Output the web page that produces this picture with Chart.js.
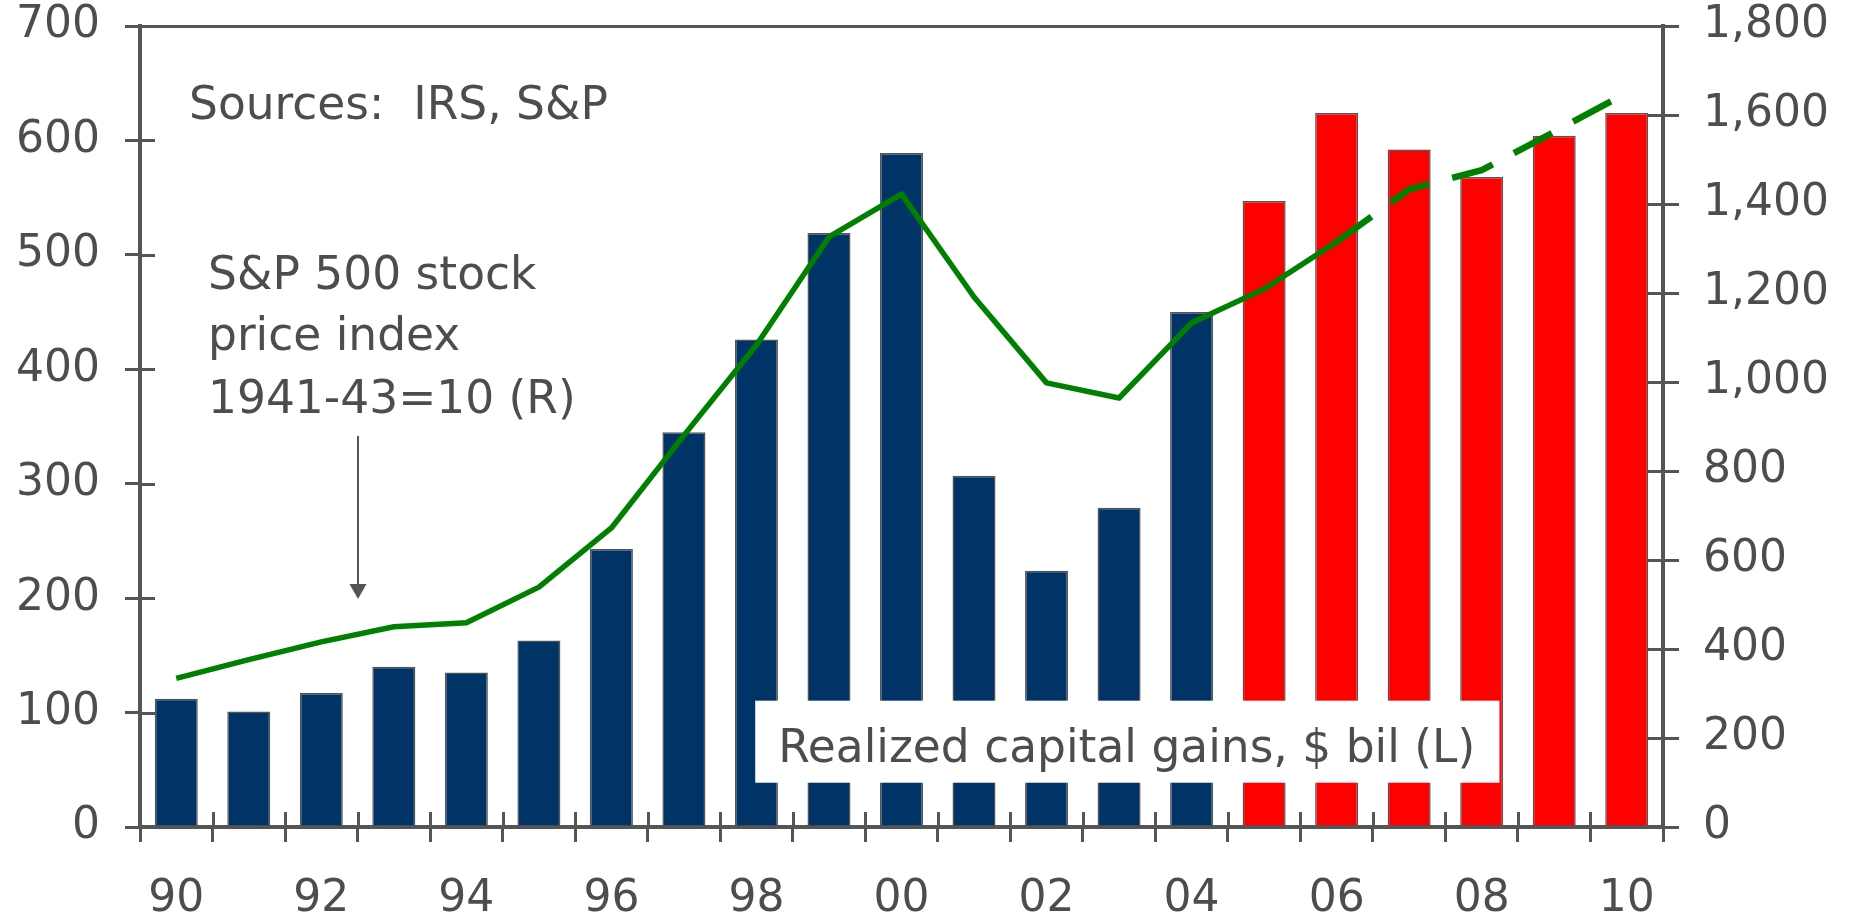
<!DOCTYPE html>
<html>
<head>
<meta charset="utf-8">
<script src="https://cdn.jsdelivr.net/npm/chart.js@4.4.1/dist/chart.umd.min.js"></script>
<style>
html,body{margin:0;padding:0;background:#ffffff;}
#wrap{width:1854px;height:916px;}
</style>
</head>
<body>
<div id="wrap"><canvas id="c" width="1854" height="916"></canvas></div>
<script>
// ---- data ----
const years = ['90','91','92','93','94','95','96','97','98','99','00','01','02','03','04','05','06','07','08','09','10'];
const capitalGains = [112, 101, 117, 140, 135, 163, 243, 345, 426, 519, 589, 307, 224, 279, 450, 547, 624, 592, 568, 604, 624]; // $ bil (L)
const sp500Index = [334, 376, 416, 450, 459, 539, 672, 880, 1083, 1326, 1422, 1191, 998, 964, 1133, 1209, 1315, 1433, 1476, 1562, 1650]; // (R)
const firstProjectedBar = 15;   // 2005 onward drawn red
const firstDashedPoint = 16;    // line dashed from 2006 onward
const leftTickStep = 100, leftMax = 700;
const rightTickStep = 200, rightMax = 1800;

const NAVY = '#003366', RED = '#ff0000', GREEN = '#008000', AXIS = '#555555', TEXT = '#4d4d4d';
const FONT = "'DejaVu Sans', Verdana, sans-serif";

Chart.defaults.font.family = FONT;
Chart.defaults.font.size = 44;
Chart.defaults.color = TEXT;

const decor = {
  id: 'decor',
  beforeDatasetsDraw(chart) {
    const {ctx, chartArea: ca} = chart;
    const x = chart.scales.x, yl = chart.scales.yL, yr = chart.scales.yR;
    ctx.save();
    ctx.strokeStyle = AXIS;
    ctx.lineWidth = 3;
    const seg = (x1, y1, x2, y2) => { ctx.beginPath(); ctx.moveTo(x1, y1); ctx.lineTo(x2, y2); ctx.stroke(); };
    for (let i = 0; i <= years.length; i++) {
      const px = Math.round(x.getPixelForValue(i - 0.5)) + 0.5;
      seg(px, ca.bottom, px, ca.bottom - 15);
    }
    yl.ticks.forEach(t => { const py = Math.round(yl.getPixelForValue(t.value)) + 0.5; seg(ca.left, py, ca.left + 15, py); });
    yr.ticks.forEach(t => { const py = Math.round(yr.getPixelForValue(t.value)) + 0.5; seg(ca.right, py, ca.right - 16, py); });
    seg(ca.left, ca.top + 0.5, ca.right, ca.top + 0.5);
    ctx.restore();
  },
  afterDatasetsDraw(chart) {
    const {ctx} = chart;
    const x = chart.scales.x, yl = chart.scales.yL;
    const X = v => x.getPixelForValue(v);
    const Y = v => yl.getPixelForValue(v);
    ctx.save();
    // label box
    const bx1 = X(7.983), bx2 = X(18.245), by1 = Y(110.4), by2 = Y(38.7);
    ctx.fillStyle = '#ffffff';
    ctx.fillRect(bx1, by1, bx2 - bx1, by2 - by1);
    ctx.fillStyle = TEXT;
    ctx.font = '45.5px ' + FONT;
    ctx.textAlign = 'left';
    ctx.textBaseline = 'alphabetic';
    ctx.fillText('Realized capital gains, $ bil (L)', X(8.3), Y(56.5));
    ctx.fillText('Sources:  IRS, S&P', X(0.176), Y(618.7));
    ctx.fillText('S&P 500 stock', X(0.438), Y(470.2));
    ctx.fillText('price index', X(0.438), Y(416.8));
    ctx.fillText('1941-43=10 (R)', X(0.438), Y(361.8));
    // arrow
    const ax = Math.round(X(2.5)), ay1 = Y(341.7), ay2 = Y(199.2);
    ctx.strokeStyle = AXIS; ctx.fillStyle = AXIS; ctx.lineWidth = 2;
    ctx.beginPath(); ctx.moveTo(ax, ay1); ctx.lineTo(ax, ay2 - 12); ctx.stroke();
    ctx.beginPath(); ctx.moveTo(ax - 8.5, ay2 - 15); ctx.lineTo(ax + 8.5, ay2 - 15); ctx.lineTo(ax, ay2); ctx.closePath(); ctx.fill();
    ctx.restore();
  }
};

new Chart(document.getElementById('c'), {
  data: {
    labels: years,
    datasets: [
      {
        type: 'line',
        label: 'S&P 500 stock price index',
        data: sp500Index,
        yAxisID: 'yR',
        order: 0,
        borderColor: GREEN,
        borderWidth: 5.5,
        pointRadius: 0,
        pointHoverRadius: 0,
        tension: 0,
        fill: false,
        borderCapStyle: 'butt',
        borderJoinStyle: 'round',
        segment: {
          borderDash: c => c.p0DataIndex >= firstDashedPoint ? [43, 24] : undefined,
          borderWidth: c => c.p0DataIndex >= firstDashedPoint ? 6.5 : undefined
        }
      },
      {
        type: 'bar',
        label: 'Realized capital gains',
        data: capitalGains,
        yAxisID: 'yL',
        order: 1,
        backgroundColor: capitalGains.map((v, i) => i >= firstProjectedBar ? RED : NAVY),
        borderColor: AXIS,
        borderWidth: 1.5,
        categoryPercentage: 1.0,
        barPercentage: 0.593
      }
    ]
  },
  options: {
    responsive: false,
    devicePixelRatio: 1,
    animation: false,
    events: [],
    layout: { padding: { top: 26, left: 0, right: 0, bottom: 0 } },
    plugins: { legend: { display: false }, tooltip: { enabled: false } },
    scales: {
      x: {
        type: 'category',
        offset: true,
        grid: { offset: true, drawOnChartArea: false, drawTicks: true, tickLength: 15, color: AXIS, lineWidth: 3 },
        border: { display: true, color: AXIS, width: 4 },
        ticks: { autoSkip: false, maxRotation: 0, minRotation: 0, padding: 31,
                 callback: (v, i) => (i % 2 === 0 ? years[i] : '') },
        afterFit: s => { s.height = 89; s.paddingLeft = 0; s.paddingRight = 0; }
      },
      yL: {
        type: 'linear',
        position: 'left',
        min: 0, max: leftMax,
        grid: { drawOnChartArea: false, drawTicks: true, tickLength: 15, color: AXIS, lineWidth: 3 },
        border: { display: true, color: AXIS, width: 4 },
        ticks: { stepSize: leftTickStep, padding: 25 },
        afterFit: s => { s.width = 140; s.paddingTop = 0; s.paddingBottom = 0; }
      },
      yR: {
        type: 'linear',
        position: 'right',
        min: 0, max: rightMax,
        grid: { drawOnChartArea: false, drawTicks: true, tickLength: 16, color: AXIS, lineWidth: 3 },
        border: { display: true, color: AXIS, width: 4 },
        ticks: { stepSize: rightTickStep, padding: 24, callback: v => v.toLocaleString('en-US') },
        afterFit: s => { s.width = 191; s.paddingTop = 0; s.paddingBottom = 0; }
      }
    }
  },
  plugins: [decor]
});
</script>
</body>
</html>
